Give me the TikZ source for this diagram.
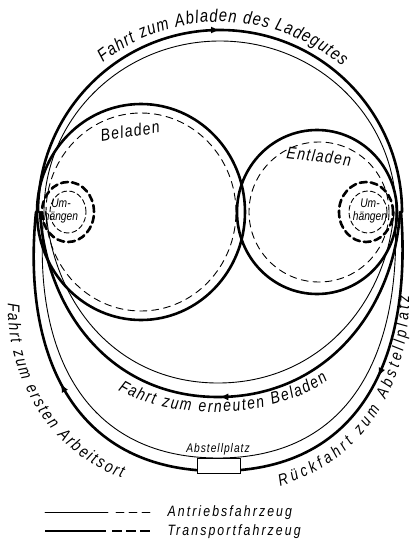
\documentclass[tikz,border=0pt]{standalone}
\usepackage{fontspec}
\setmainfont{Liberation Sans}
\newfontfamily\din[FakeStretch=0.82]{Liberation Sans}
\usetikzlibrary{decorations.text,decorations.markings,arrows.meta}

\tikzset{
  transport/.style={line width=2.6pt},
  antrieb/.style={line width=0.9pt},
  leer/.style={dash pattern=on 7pt off 5pt},
  umh/.style={line width=2.6pt,dash pattern=on 7pt off 4pt},
  pfeil/.style={postaction={decorate,decoration={markings,mark=at position #1 with {\arrow{Latex[length=9pt,width=7pt]}}}}},
  rpfeil/.style={postaction={decorate,decoration={markings,mark=at position #1 with {\arrowreversed{Latex[length=9pt,width=7pt]}}}}},
  bogentext/.style={decorate,decoration={text along path,text align={fit to path},text={#1}}},
  schrift/.style={font=\din\itshape\fontsize{#1}{#1}\selectfont},
}

\begin{document}
\begin{tikzpicture}[x=1pt,y=1pt,line cap=round]
  \useasboundingbox (0,0) rectangle (415,-541);
  % Fahrt zum Abladen (oben)
  \draw[transport,pfeil=0.5] (38,-212) arc[start angle=180,end angle=0,radius=182];
  \draw[antrieb] (44,-212) arc[start angle=180,end angle=0,x radius=176,y radius=171];
  % Beladen und Entladen
  \draw[transport] (141,-212) circle[x radius=104,y radius=108];
  \draw[antrieb,leer] (141,-212) circle[x radius=95,y radius=99];
  \draw[transport] (317,-212) circle[x radius=80,y radius=82];
  \draw[antrieb,leer] (319,-212) circle[x radius=70,y radius=70];
  % Umhaengen
  \draw[umh] (68,-212) circle[x radius=26,y radius=30];
  \draw[antrieb,dash pattern=on 5pt off 3pt] (68,-212) circle[x radius=18,y radius=21];
  \draw[umh] (366,-212) circle[x radius=27,y radius=30];
  \draw[antrieb,dash pattern=on 5pt off 3pt] (368,-212) circle[x radius=19,y radius=21];
  % Fahrt zum erneuten Beladen
  \draw[transport,rpfeil=0.5] (40,-212) .. controls (46,-310) and (110,-397) .. (218,-397) .. controls (326,-397) and (394,-310) .. (400,-212);
  \draw[antrieb] (46,-212) .. controls (54,-305) and (118,-383) .. (218,-383) .. controls (318,-383) and (386,-305) .. (394,-212);
  % aeussere Schleife ueber den Abstellplatz
  \draw[transport,rpfeil=0.24,rpfeil=0.77] (36,-212) .. controls (22,-350) and (70,-471) .. (218,-471) .. controls (366,-471) and (412,-350) .. (401,-212);
  \draw[antrieb] (44,-212) .. controls (32,-345) and (80,-458) .. (218,-458) .. controls (356,-458) and (402,-345) .. (395,-212);
  \node[draw,fill=white,line width=0.9pt,minimum width=43pt,minimum height=15pt,inner sep=0pt] (platz) at (218.5,-465.5) {};
  \node[schrift=12.5,anchor=base] (platztext) at (218,-452) {\addfontfeatures{LetterSpace=8}Abstellplatz};
  % Beschriftung
  \node[schrift=17,rotate=9] (beladen) at (130,-131) {\addfontfeatures{LetterSpace=8}Beladen};
  \node[schrift=17,rotate=-7] (entladen) at (319,-156) {\addfontfeatures{LetterSpace=8}Entladen};
  \node[schrift=12.5,align=center,inner sep=0pt] (umtextl) at (61,-211) {Um-\\hängen};
  \node[schrift=12.5,align=center,inner sep=0pt] (umtextr) at (370,-211) {Um-\\hängen};
  \path[bogentext={|\din\itshape\fontsize{18}{18}\selectfont|Fahrt zum Abladen des Ladegutes}] (220,-212) ++(128:190) arc[start angle=128,end angle=50,radius=190];
  \path[bogentext={|\din\itshape\fontsize{17}{17}\selectfont|Fahrt zum erneuten Beladen}] (118,-390) .. controls (170,-421) and (270,-421) .. (328,-380);
  \path[bogentext={|\din\itshape\fontsize{17}{17}\selectfont|Fahrt zum ersten Arbeitsort}] (8,-303) .. controls (6,-376) and (48,-452) .. (122,-478);
  \path[bogentext={|\din\itshape\fontsize{16.5}{16.5}\selectfont|Rückfahrt zum Abstellplatz}] (280,-486) .. controls (364,-462) and (410,-384) .. (409,-296);
  % Legende
  \coordinate (l1) at (45,-512);
  \coordinate (l2) at (108,-512);
  \coordinate (l3) at (152,-512);
  \coordinate (t1) at (45,-531);
  \coordinate (t2) at (106,-531);
  \coordinate (t3) at (152,-531);
  \draw[antrieb] (l1) -- (l2);
  \draw[antrieb,dash pattern=on 8pt off 5pt] ([xshift=8pt]l2) -- (l3);
  \draw[transport,line cap=butt] (t1) -- (t2);
  \draw[transport,line cap=butt,dash pattern=on 10pt off 4pt] ([xshift=6pt]t2) -- (t3);
  \node[schrift=15,anchor=base west] (antriebtext) at (164,-516) {\addfontfeatures{LetterSpace=14}Antriebsfahrzeug};
  \node[schrift=15,anchor=base west] (transporttext) at (164,-535) {\addfontfeatures{LetterSpace=14}Transportfahrzeug};
\end{tikzpicture}
\end{document}
